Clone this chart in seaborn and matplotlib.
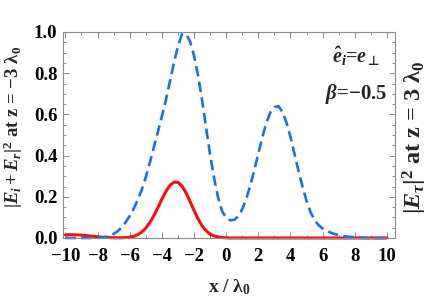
import numpy as np
import pandas as pd
import matplotlib
matplotlib.use("Agg")
import matplotlib.pyplot as plt
from matplotlib.ticker import MultipleLocator, FormatStrFormatter
import seaborn as sns

# ---- data ----
x_pos = np.linspace(-10, 10, 81)

red_vals = [
    0.015, 0.016, 0.016, 0.015, 0.014, 0.012, 0.010, 0.008, 0.006, 0.004,
    0.003, 0.002, 0.001, 0.001, 0.001, 0.002, 0.004, 0.008, 0.016, 0.029,
    0.048, 0.075, 0.108, 0.147, 0.188, 0.226, 0.256, 0.271, 0.270, 0.252,
    0.220, 0.178, 0.134, 0.093, 0.059, 0.035, 0.019, 0.010, 0.005, 0.002,
    0.001,
    0, 0, 0, 0, 0, 0, 0, 0, 0, 0, 0, 0, 0, 0, 0, 0, 0, 0, 0, 0,
    0, 0, 0, 0, 0, 0, 0, 0, 0, 0, 0, 0, 0, 0, 0, 0, 0, 0, 0, 0,
]

blue_vals = [
    0, 0, 0, 0, 0, 0, 0, 0.001, 0.001,
    0.002, 0.005, 0.011, 0.020, 0.033, 0.052, 0.077, 0.107, 0.143, 0.185,
    0.235, 0.295, 0.365, 0.440, 0.515, 0.590, 0.670, 0.760, 0.850, 0.930,
    0.990, 0.990, 0.955, 0.885, 0.790, 0.670, 0.535, 0.405, 0.290, 0.195,
    0.130, 0.097,
    0.086, 0.088, 0.105, 0.140, 0.190, 0.255, 0.330, 0.410, 0.490, 0.560,
    0.610, 0.635, 0.640, 0.612, 0.560, 0.490, 0.408, 0.325, 0.248, 0.180,
    0.125, 0.087, 0.062, 0.046, 0.035, 0.026, 0.019, 0.014, 0.010, 0.007,
    0.005, 0.003, 0.002, 0.001, 0, 0, 0, 0, 0, 0,
]

x_ticks = [-10, -8, -6, -4, -2, 0, 2, 4, 6, 8, 10]
y_ticks = [0.0, 0.2, 0.4, 0.6, 0.8, 1.0]

df = pd.DataFrame({"x": x_pos, "red": red_vals, "blue": blue_vals})

# ---- style ----
sns.set_theme(style="ticks")
plt.rcParams.update({
    "font.family": ["Liberation Serif", "DejaVu Serif"],
    "font.weight": "bold",
    "axes.labelweight": "bold",
    "mathtext.fontset": "custom",
    "mathtext.rm": "Liberation Serif:bold",
    "mathtext.it": "Liberation Serif:italic:bold",
    "mathtext.bf": "Liberation Serif:bold",
    "axes.unicode_minus": True,
})

fig = plt.figure(figsize=(4.29, 2.98), dpi=100)
ax = fig.add_axes([63 / 429, 60 / 298, 332 / 429, 206 / 298])

sns.lineplot(data=df, x="x", y="red", color="#ff0a0a", linewidth=2.2, ax=ax)
sns.lineplot(data=df, x="x", y="blue", color="#1a6ff0", linewidth=1.9, ax=ax)
for ln in ax.lines:
    ln.set_clip_on(False)
ax.lines[-1].set_linestyle((0, (4, 2)))

ax.set_xlim(-10.15, 10.5)
ax.set_ylim(0, 1.0)
ax.set_xticks(x_ticks)
ax.set_yticks(y_ticks)
ax.xaxis.set_minor_locator(MultipleLocator(1))
ax.yaxis.set_minor_locator(MultipleLocator(0.05))
ax.yaxis.set_major_formatter(FormatStrFormatter("%.1f"))

for s in ax.spines.values():
    s.set_color("#8c8c8c")
    s.set_linewidth(0.8)

ax.tick_params(which="both", direction="in", top=True, right=True,
               color="#8c8c8c", width=0.7, labelsize=13.5, labelcolor="black")
ax.tick_params(which="major", length=4)
ax.tick_params(which="minor", length=2.5)
ax.tick_params(axis="x", which="major", pad=7)
ax.tick_params(axis="y", which="major", pad=4)
for lab in ax.get_xticklabels() + ax.get_yticklabels():
    lab.set_fontweight("bold")

ax.set_xlabel("x / λ$_0$", fontsize=14, labelpad=9)
ax.set_ylabel("")

fig.text(13 / 429, 1 - 127 / 298, "$|E_i + E_r|^2$ at z = −3 λ$_0$",
         rotation=90, ha="center", va="center", fontsize=13.5, fontweight="bold")
fig.text(415 / 429, 1 - 137 / 298, "$|E_\\tau|^2$ at z = 3 λ$_0$",
         rotation=90, ha="center", va="center", fontsize=17.5, fontweight="bold")

t1 = ax.text(0.918, 0.883, "$\\hat{e}_i$=$e$", transform=ax.transAxes,
             ha="right", va="center", fontsize=14.5, fontweight="bold")
ax.annotate("⊥", xy=(1.0, -0.02), xycoords=t1, ha="left", va="bottom",
            fontsize=9, fontweight="bold", family=["DejaVu Sans"])
ax.text(0.976, 0.699, "$\\beta$=−0.5", transform=ax.transAxes,
        ha="right", va="center", fontsize=15, fontweight="bold")

fig.savefig("out.png", dpi=100)
